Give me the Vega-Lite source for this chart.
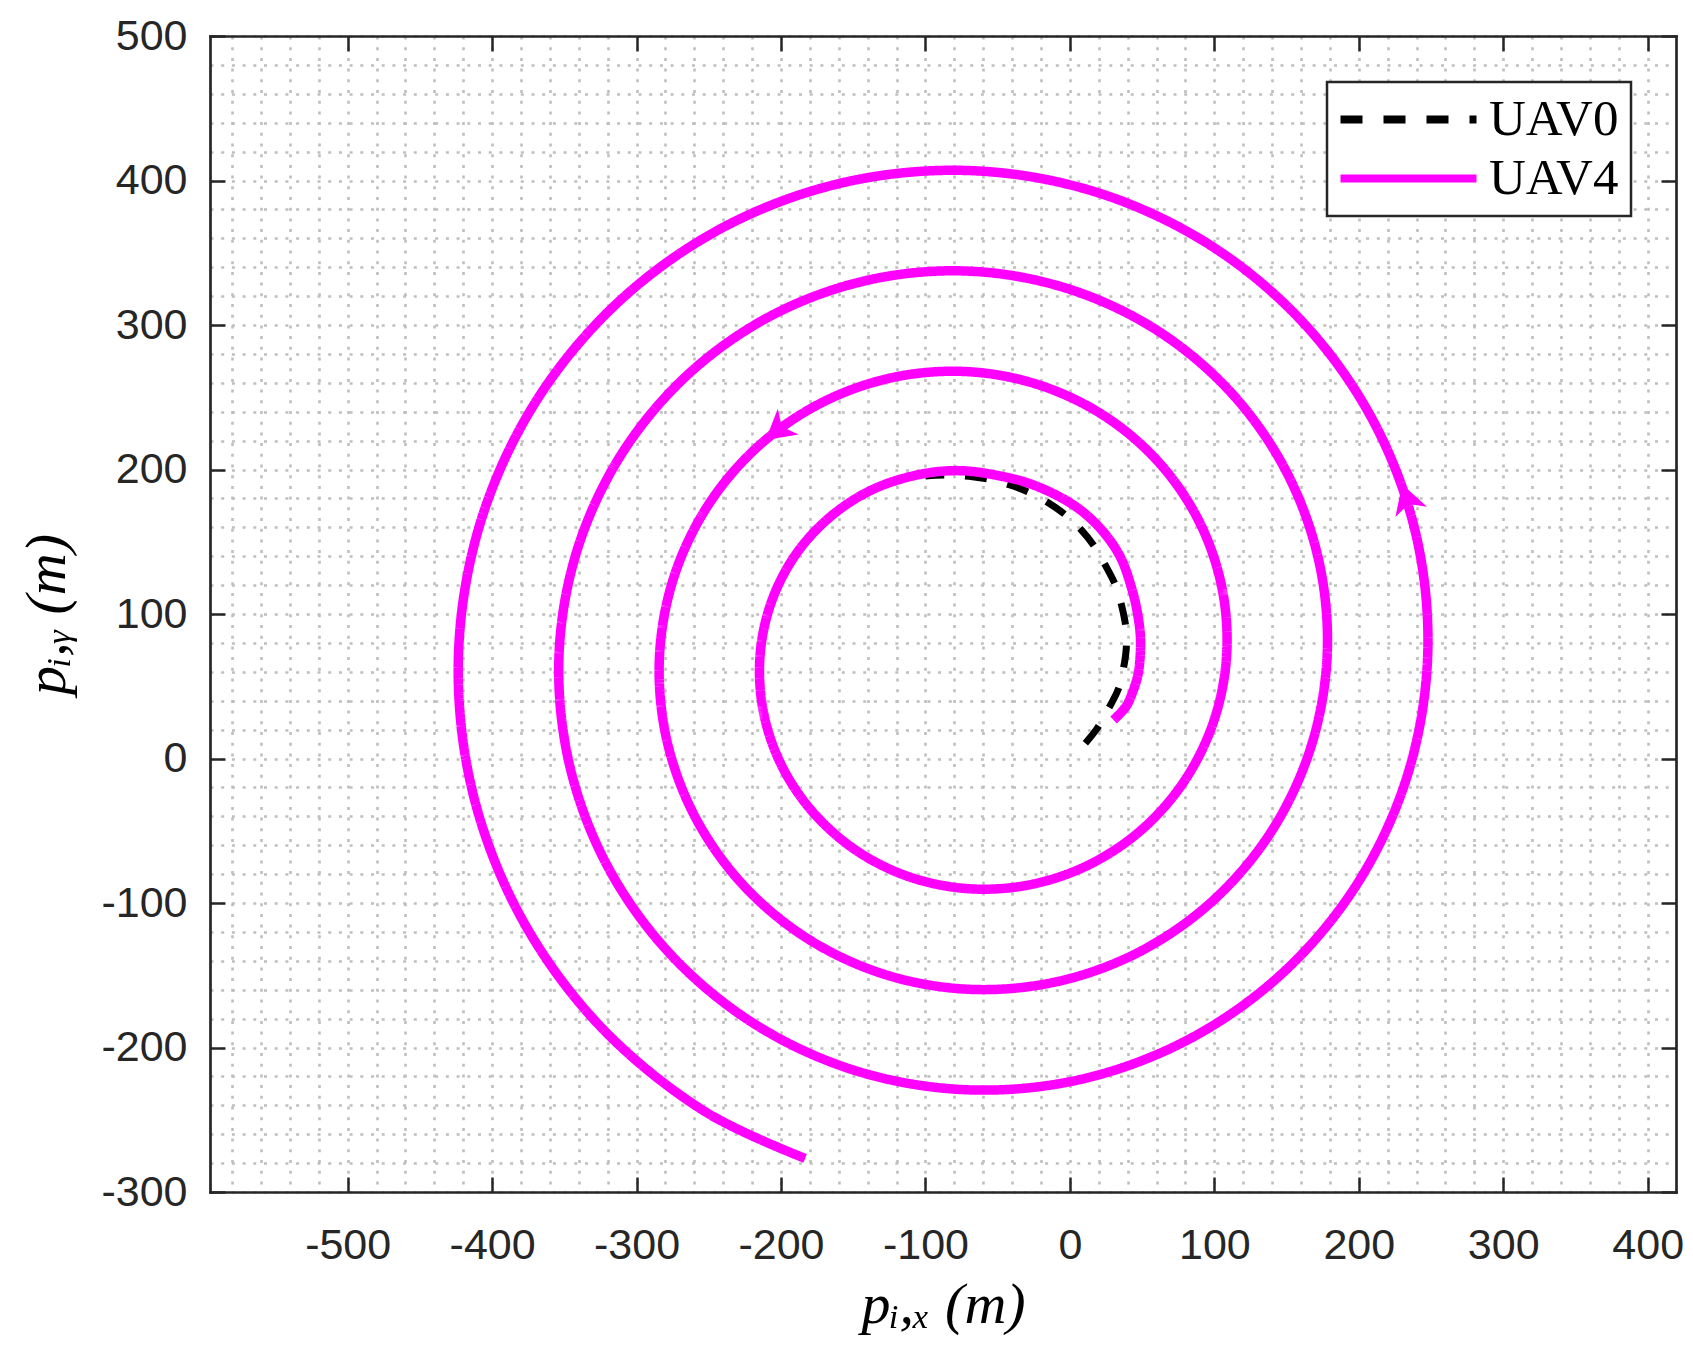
{
"$schema":"https://vega.github.io/schema/vega-lite/v6.json",
"width":1466,"height":1156,
"autosize":{"type":"none"},
"padding":{"left":210,"top":36,"right":17,"bottom":156},
"background":"white",
"config":{
 "view":{"stroke":null},
 "axis":{"domainColor":"#262626","domainWidth":2.7,"domainCap":"square","tickColor":"#262626","tickWidth":2.5,"labelFont":"Liberation Sans","labelFontSize":43,"labelColor":"#262626","titleFont":"Liberation Serif","titleFontStyle":"italic","titleFontWeight":"normal","titleFontSize":58,"titleColor":"#000000"},
 "legend":{"orient":"none","legendX":1117,"legendY":46,"symbolType":"M-4,0H4","symbolSize":1156,"symbolOffset":44,"symbolStrokeWidth":8,"labelFont":"Liberation Serif","labelFontSize":51,"labelColor":"#000000","labelOffset":55,"padding":12,"rowPadding":7,"strokeColor":"#262626","strokeWidth":2.5,"fillColor":"#ffffff","titlePadding":0}
},
"datasets":{
 "traj":[
  {"series":"UAV0","i":0,"x":10.7,"y":10.6},{"series":"UAV0","i":1,"x":19,"y":21},{"series":"UAV0","i":2,"x":27,"y":35},{"series":"UAV0","i":3,"x":33.5,"y":48},{"series":"UAV0","i":4,"x":37,"y":62},{"series":"UAV0","i":5,"x":39,"y":76},{"series":"UAV0","i":6,"x":38.8,"y":90},{"series":"UAV0","i":7,"x":36,"y":105},{"series":"UAV0","i":8,"x":31.5,"y":120},{"series":"UAV0","i":9,"x":25,"y":133},{"series":"UAV0","i":10,"x":17.5,"y":146},{"series":"UAV0","i":11,"x":8,"y":158},{"series":"UAV0","i":12,"x":-3,"y":168.5},{"series":"UAV0","i":13,"x":-15,"y":177},{"series":"UAV0","i":14,"x":-28,"y":184},{"series":"UAV0","i":15,"x":-41.5,"y":189.3},{"series":"UAV0","i":16,"x":-55,"y":193},{"series":"UAV0","i":17,"x":-70,"y":195.3},{"series":"UAV0","i":18,"x":-86,"y":196.2},{"series":"UAV0","i":19,"x":-100,"y":195.5},
  {"series":"UAV4","i":0,"x":30.2,"y":26.6},{"series":"UAV4","i":1,"x":38.8,"y":35.9},{"series":"UAV4","i":2,"x":43.1,"y":45.1},{"series":"UAV4","i":3,"x":47.3,"y":59},{"series":"UAV4","i":4,"x":48.9,"y":82},{"series":"UAV4","i":5,"x":46.8,"y":100.5},{"series":"UAV4","i":6,"x":43.1,"y":116.6},{"series":"UAV4","i":7,"x":34.8,"y":139.7},{"series":"UAV4","i":8,"x":21,"y":159.3},{"series":"UAV4","i":9,"x":2.5,"y":175.4},{"series":"UAV4","i":10,"x":-25.2,"y":189.3},{"series":"UAV4","i":11,"x":-48.3,"y":195.5},{"series":"UAV4","i":12,"x":-76,"y":199.2},
  {"series":"UAV4","i":13,"x":-103.9,"y":196.6},{"series":"UAV4","i":14,"x":-136.7,"y":186.1},{"series":"UAV4","i":15,"x":-166.1,"y":167.1},{"series":"UAV4","i":16,"x":-190.2,"y":140.6},{"series":"UAV4","i":17,"x":-206.8,"y":107.9},{"series":"UAV4","i":18,"x":-214.5,"y":71.4},{"series":"UAV4","i":19,"x":-212.4,"y":33.4},{"series":"UAV4","i":20,"x":-200.2,"y":-3.6},{"series":"UAV4","i":21,"x":-178.4,"y":-36.6},{"series":"UAV4","i":22,"x":-148.3,"y":-63.4},{"series":"UAV4","i":23,"x":-111.5,"y":-81.8},{"series":"UAV4","i":24,"x":-70.4,"y":-90.1},{"series":"UAV4","i":25,"x":-27.9,"y":-87.4},{"series":"UAV4","i":26,"x":13.3,"y":-73.5},{"series":"UAV4","i":27,"x":50.0,"y":-49.0},{"series":"UAV4","i":28,"x":79.5,"y":-15.2},{"series":"UAV4","i":29,"x":99.6,"y":25.9},{"series":"UAV4","i":30,"x":108.5,"y":71.4},{"series":"UAV4","i":31,"x":105.2,"y":118.5},{"series":"UAV4","i":32,"x":89.6,"y":163.8},{"series":"UAV4","i":33,"x":62.3,"y":204.1},{"series":"UAV4","i":34,"x":24.9,"y":236.4},{"series":"UAV4","i":35,"x":-20.4,"y":258.2},{"series":"UAV4","i":36,"x":-70.4,"y":267.7},{"series":"UAV4","i":37,"x":-122.0,"y":263.8},{"series":"UAV4","i":38,"x":-171.5,"y":246.4},{"series":"UAV4","i":39,"x":-215.4,"y":216.4},{"series":"UAV4","i":40,"x":-250.4,"y":175.4},{"series":"UAV4","i":41,"x":-274.0,"y":126.0},{"series":"UAV4","i":42,"x":-284.1,"y":71.4},{"series":"UAV4","i":43,"x":-279.6,"y":15.3},{"series":"UAV4","i":44,"x":-260.5,"y":-38.4},{"series":"UAV4","i":45,"x":-227.7,"y":-85.9},{"series":"UAV4","i":46,"x":-183.1,"y":-123.7},{"series":"UAV4","i":47,"x":-129.5,"y":-149.0},{"series":"UAV4","i":48,"x":-70.4,"y":-159.7},{"series":"UAV4","i":49,"x":-9.8,"y":-154.6},{"series":"UAV4","i":50,"x":48.1,"y":-133.8},{"series":"UAV4","i":51,"x":99.2,"y":-98.2},{"series":"UAV4","i":52,"x":139.8,"y":-50.0},{"series":"UAV4","i":53,"x":166.8,"y":7.8},{"series":"UAV4","i":54,"x":178.1,"y":71.4},{"series":"UAV4","i":55,"x":172.4,"y":136.5},{"series":"UAV4","i":56,"x":149.8,"y":198.6},{"series":"UAV4","i":57,"x":111.5,"y":253.3},{"series":"UAV4","i":58,"x":59.7,"y":296.7},{"series":"UAV4","i":59,"x":-2.3,"y":325.4},{"series":"UAV4","i":60,"x":-70.4,"y":337.3},{"series":"UAV4","i":61,"x":-140.0,"y":331.0},{"series":"UAV4","i":62,"x":-206.3,"y":306.7},{"series":"UAV4","i":63,"x":-264.6,"y":265.6},{"series":"UAV4","i":64,"x":-310.7,"y":210.2},{"series":"UAV4","i":65,"x":-341.2,"y":144.0},{"series":"UAV4","i":66,"x":-353.7,"y":71.4},{"series":"UAV4","i":67,"x":-346.8,"y":-2.7},{"series":"UAV4","i":68,"x":-320.8,"y":-73.2},{"series":"UAV4","i":69,"x":-276.9,"y":-135.1},{"series":"UAV4","i":70,"x":-217.9,"y":-184.0},{"series":"UAV4","i":71,"x":-147.5,"y":-216.3},{"series":"UAV4","i":72,"x":-70.4,"y":-229.3},{"series":"UAV4","i":73,"x":8.2,"y":-221.9},{"series":"UAV4","i":74,"x":82.9,"y":-194.0},{"series":"UAV4","i":75,"x":148.4,"y":-147.4},{"series":"UAV4","i":76,"x":200.1,"y":-84.8},{"series":"UAV4","i":77,"x":234.1,"y":-10.2},{"series":"UAV4","i":78,"x":247.7,"y":71.4},{"series":"UAV4","i":79,"x":239.7,"y":154.5},{"series":"UAV4","i":80,"x":210.1,"y":233.4},{"series":"UAV4","i":81,"x":160.7,"y":302.5},{"series":"UAV4","i":82,"x":94.5,"y":356.9},{"series":"UAV4","i":83,"x":15.7,"y":392.7},{"series":"UAV4","i":84,"x":-70.4,"y":406.9},{"series":"UAV4","i":85,"x":-158.0,"y":398.3},{"series":"UAV4","i":86,"x":-241.1,"y":367.0},{"series":"UAV4","i":87,"x":-313.8,"y":314.8},{"series":"UAV4","i":88,"x":-371.0,"y":245.0},{"series":"UAV4","i":89,"x":-408.5,"y":162.0},{"series":"UAV4","i":90,"x":-423.3,"y":71.4},{"series":"UAV4","i":91,"x":-414.1,"y":-20.7},{"series":"UAV4","i":92,"x":-381.0,"y":-108.0},{"series":"UAV4","i":93,"x":-326.1,"y":-184.3},{"series":"UAV4","i":94,"x":-252.7,"y":-244.3},{"series":"UAV4","i":95,"x":-183.3,"y":-276.7}
 ],
 "arrows":[
  {"x":233.6,"y":178.9,"heading":342},
  {"x":-201.7,"y":227.7,"heading":231}
 ]
},
"layer":[
 {
  "data":{"name":"traj"},
  "transform":[{"filter":"datum.series === 'UAV0'"}],
  "mark":{"type":"line","interpolate":"catmull-rom","strokeCap":"butt","strokeJoin":"round","strokeWidth":7},
  "encoding":{
   "x":{"field":"x","type":"quantitative","scale":{"domain":[-595.3,419.6],"nice":false,"zero":false},
    "axis":{"orient":"bottom","values":[-580,-560,-540,-520,-500,-480,-460,-440,-420,-400,-380,-360,-340,-320,-300,-280,-260,-240,-220,-200,-180,-160,-140,-120,-100,-80,-60,-40,-20,0,20,40,60,80,100,120,140,160,180,200,220,240,260,280,300,320,340,360,380,400],
     "grid":true,"gridColor":"#bfbfbf","gridDash":[3,7.7],"gridWidth":2.6,"tickSize":-15,
     "tickOpacity":{"condition":{"test":"datum.value % 100 === 0","value":1},"value":0},
     "labelExpr":"datum.value % 100 === 0 ? '' + datum.value : ''","labelOverlap":false,"labelFlush":false,"labelPadding":47,
     "title":"pᵢ,ₓ (m)","titlePadding":9}},
   "y":{"field":"y","type":"quantitative","scale":{"domain":[-300,500],"nice":false,"zero":false},
    "axis":{"orient":"left","values":[-300,-280,-260,-240,-220,-200,-180,-160,-140,-120,-100,-80,-60,-40,-20,0,20,40,60,80,100,120,140,160,180,200,220,240,260,280,300,320,340,360,380,400,420,440,460,480,500],
     "grid":true,"gridColor":"#bfbfbf","gridDash":[3,7.7],"gridWidth":2.6,"tickSize":-15,
     "tickOpacity":{"condition":{"test":"datum.value % 100 === 0","value":1},"value":0},
     "labelExpr":"datum.value % 100 === 0 ? '' + datum.value : ''","labelOverlap":false,"labelFlush":false,"labelPadding":38,
     "title":"pᵢ,ᵧ (m)","titlePadding":24}},
   "order":{"field":"i","type":"quantitative"},
   "color":{"field":"series","type":"nominal","scale":{"domain":["UAV0","UAV4"],"range":["#000000","#ff00ff"]},"legend":{"title":null}},
   "strokeDash":{"field":"series","type":"nominal","scale":{"domain":["UAV0","UAV4"],"range":[[22,21],[1,0]]},"legend":{"title":null}}
  }
 },
 {
  "data":{"name":"traj"},
  "transform":[{"filter":"datum.series === 'UAV4'"}],
  "mark":{"type":"line","interpolate":"catmull-rom","strokeCap":"butt","strokeJoin":"round","strokeWidth":9.5},
  "encoding":{
   "x":{"field":"x","type":"quantitative","axis":null},
   "y":{"field":"y","type":"quantitative","axis":null},
   "order":{"field":"i","type":"quantitative"},
   "color":{"field":"series","type":"nominal","legend":{"title":null}},
   "strokeDash":{"field":"series","type":"nominal","legend":{"title":null}}
  }
 },
 {
  "data":{"name":"arrows"},
  "mark":{"type":"point","shape":"M0,-1L1,0.75L0,0.25L-1,0.75Z","filled":true,"color":"#ff00ff","size":1100,"opacity":1,"strokeWidth":0},
  "encoding":{
   "x":{"field":"x","type":"quantitative","axis":{"orient":"top","values":[-500,-400,-300,-200,-100,0,100,200,300,400],"grid":false,"tickSize":-15,"labels":false,"title":null}},
   "y":{"field":"y","type":"quantitative","axis":{"orient":"right","values":[-300,-200,-100,0,100,200,300,400,500],"grid":false,"tickSize":-15,"labels":false,"title":null}},
   "angle":{"field":"heading","type":"quantitative","scale":{"domain":[0,360],"range":[0,360]}}
  }
 }
],
"resolve":{"axis":{"x":"independent","y":"independent"}}
}
